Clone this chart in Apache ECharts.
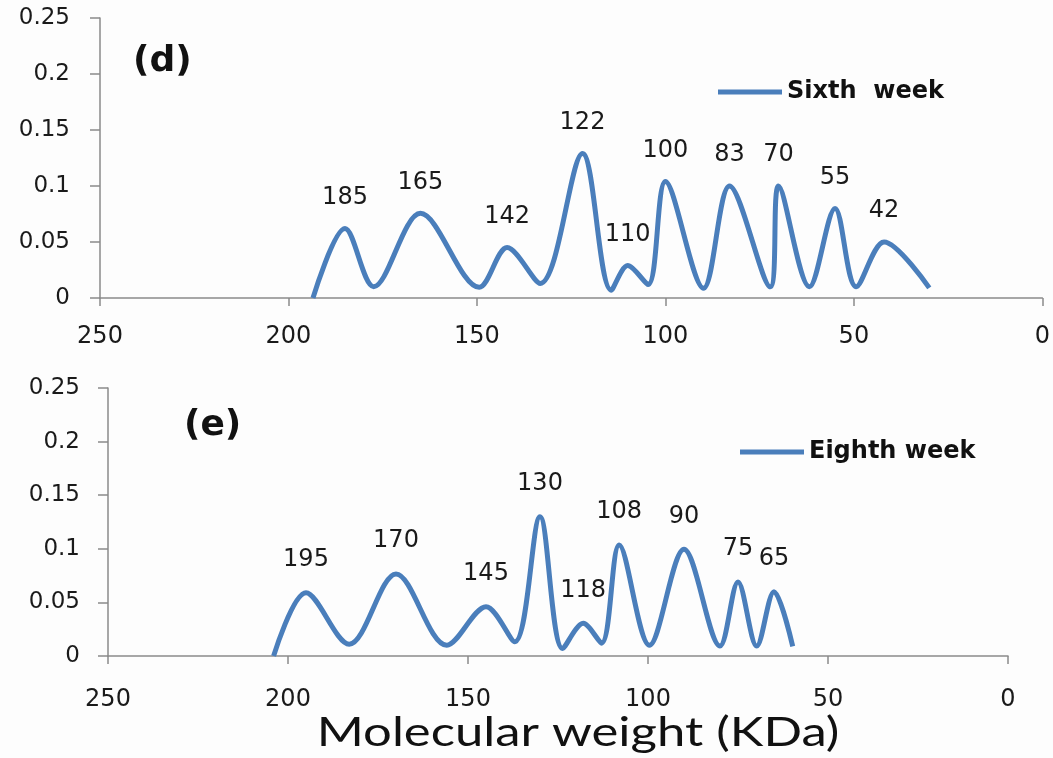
<!DOCTYPE html>
<html>
<head>
<meta charset="utf-8">
<script src="https://cdn.jsdelivr.net/npm/echarts@6/dist/echarts.min.js"></script>
<style>
html,body{margin:0;padding:0;background:#fdfdfd;}
#chart{width:1053px;height:758px;}
</style>
</head>
<body>
<div id="chart"></div>
<script>
// ---- Data ----
var topName = 'Sixth  week';
var topX = [193.5, 185, 177.4, 165, 149.4, 142, 133.2, 122, 114.4, 110, 104.6, 100, 89.9, 83, 72.2, 70, 61.8, 55, 49.4, 42, 30];
var topY = [0, 0.062, 0.010, 0.0756, 0.0095, 0.045, 0.013, 0.129, 0.007, 0.029, 0.012, 0.104, 0.0087, 0.100, 0.010, 0.100, 0.010, 0.080, 0.010, 0.050, 0.009];
var topLabels = ['', '185', '', '165', '', '142', '', '122', '', '110', '', '100', '', '83', '', '70', '', '55', '', '42', ''];

var botName = 'Eighth week';
var botX = [204, 195, 183, 170, 155.9, 145, 137, 130, 123.7, 118, 112.9, 108, 99.6, 90, 80, 75, 69.8, 65, 59.8];
var botY = [0, 0.059, 0.011, 0.0765, 0.010, 0.046, 0.0133, 0.130, 0.007, 0.0305, 0.012, 0.1035, 0.010, 0.0995, 0.0093, 0.069, 0.0093, 0.060, 0.009];
var botLabels = ['', '195', '', '170', '', '145', '', '130', '', '118', '', '108', '', '90', '', '75', '', '65', ''];

var panelTags = ['(d)', '(e)'];
var xTitle = 'Molecular weight (KDa)';
var xMin = 0, xMax = 250, xStep = 50;
var yMin = 0, yMax = 0.25, yStep = 0.05;

// ---- Build ----
var LINE = '#4a7ebb';
var AXIS = '#8a8a8a';
var TXT = '#1a1a1a';
var FONT = 'DejaVu Sans';

function pairs(xs, ys) { return xs.map(function (x, i) { return [x, ys[i]]; }); }

function xAxis(gi, margin) {
  return {
    gridIndex: gi, type: 'value', inverse: true, min: xMin, max: xMax, interval: xStep,
    position: 'bottom',
    axisLine: { show: true, onZero: false, lineStyle: { color: AXIS, width: 1.5 } },
    axisTick: { show: true, length: 8, lineStyle: { color: AXIS, width: 1.5 } },
    axisLabel: { margin: margin, fontSize: 24, fontFamily: FONT, color: TXT },
    splitLine: { show: false }
  };
}
function yAxis(gi, margin) {
  return {
    gridIndex: gi, type: 'value', min: yMin, max: yMax, interval: yStep,
    position: 'left',
    axisLine: { show: true, onZero: false, lineStyle: { color: AXIS, width: 1.5 } },
    axisTick: { show: true, length: 10, lineStyle: { color: AXIS, width: 1.5 } },
    axisLabel: { margin: margin, fontSize: 23, fontFamily: FONT, color: TXT },
    splitLine: { show: false }
  };
}
function lineSeries(name, gi, xs, ys, labels, dist) {
  return {
    name: name, type: 'line', xAxisIndex: gi, yAxisIndex: gi,
    data: pairs(xs, ys),
    smooth: 0.33,
    showSymbol: true, symbol: 'circle', symbolSize: 0,
    itemStyle: { color: LINE },
    lineStyle: { color: LINE, width: 5 },
    label: {
      show: true, position: 'top', distance: dist,
      fontSize: 24, fontFamily: FONT, color: TXT,
      formatter: function (p) { return labels[p.dataIndex]; }
    },
    emphasis: { disabled: true },
    silent: true, animation: false
  };
}

var chart = echarts.init(document.getElementById('chart'), null, { renderer: 'canvas' });
chart.setOption({
  backgroundColor: '#fdfdfd',
  animation: false,
  grid: [
    { left: 100, top: 18, width: 943, height: 280 },
    { left: 108, top: 388, width: 900, height: 268 }
  ],
  xAxis: [xAxis(0, 27), xAxis(1, 32)],
  yAxis: [yAxis(0, 30), yAxis(1, 28)],
  legend: [
    { data: [topName], left: 718, top: 80, padding: 0, icon: 'rect', itemWidth: 64, itemHeight: 5, itemGap: 5,
      textStyle: { fontSize: 24, fontWeight: 'bold', fontFamily: FONT, color: '#111' } },
    { data: [botName], left: 740, top: 440, padding: 0, icon: 'rect', itemWidth: 64, itemHeight: 5, itemGap: 5,
      textStyle: { fontSize: 24, fontWeight: 'bold', fontFamily: FONT, color: '#111' } }
  ],
  graphic: [
    { type: 'text', left: 133, top: 44, style: { text: panelTags[0], font: 'bold 36px "DejaVu Sans"', fill: '#111' } },
    { type: 'text', left: 184, top: 408, style: { text: panelTags[1], font: 'bold 36px "DejaVu Sans"', fill: '#111' } },
    { type: 'text', x: 578, y: 733, scaleX: 1.27, style: { text: xTitle, font: '40px Lato', fill: '#111', textAlign: 'center', textVerticalAlign: 'middle' } }
  ],
  series: [
    lineSeries(topName, 0, topX, topY, topLabels, 19),
    lineSeries(botName, 1, botX, botY, botLabels, 21)
  ]
});
</script>
</body>
</html>
